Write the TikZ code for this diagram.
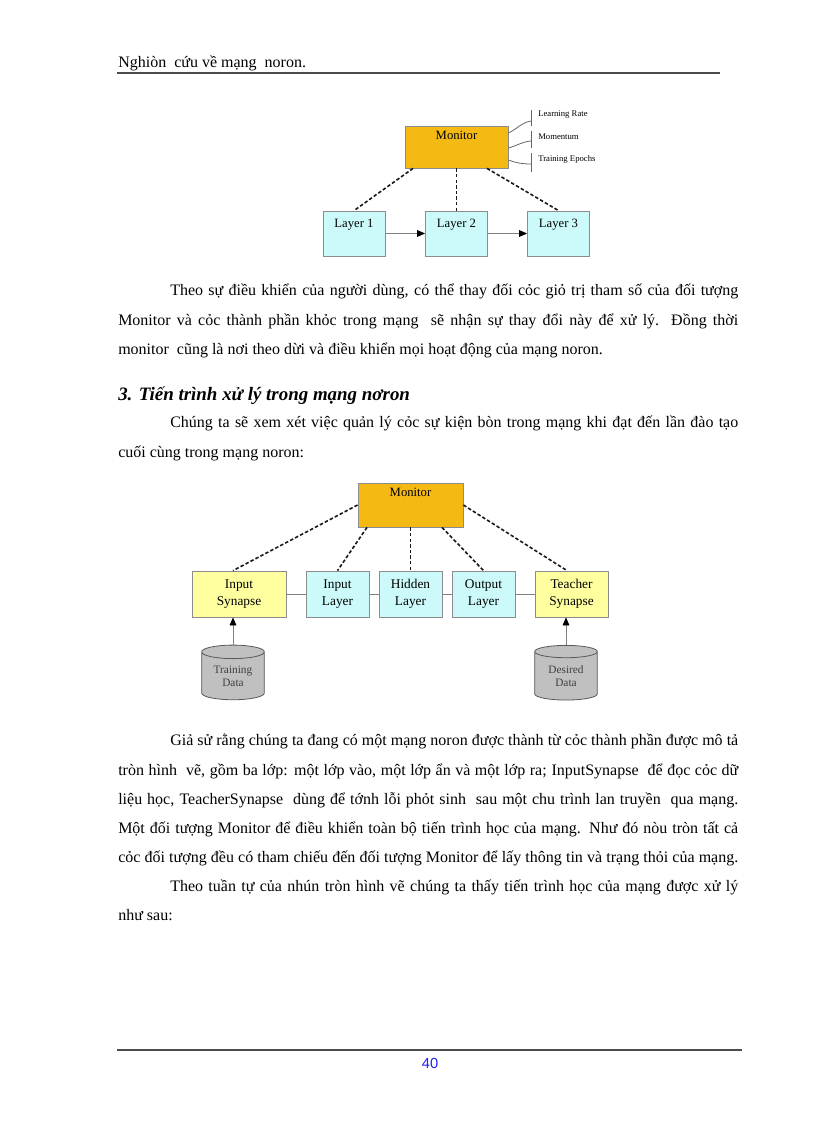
\documentclass[tikz,border=0pt]{standalone}
\usepackage{fontspec}
\setmainfont{Liberation Serif}
\newfontfamily\sansf{Liberation Sans}
\usetikzlibrary{calc,arrows.meta,shapes.geometric}
\definecolor{monfill}{RGB}{245,185,20}
\definecolor{layerfill}{RGB}{204,250,250}
\definecolor{synfill}{RGB}{255,255,160}
\definecolor{cylfill}{RGB}{192,192,192}
\definecolor{boxline}{RGB}{140,140,140}
\definecolor{pagenum}{RGB}{30,30,255}
\newcommand{\jfull}[1]{\makebox[465pt][s]{#1}}
\newcommand{\jind}[1]{\makebox[426pt][s]{#1}}
\tikzset{
  txt/.style={anchor=base west, inner sep=0pt, font=\fontsize{12}{14}\selectfont},
  monbox/.style={draw=boxline, fill=monfill, line width=0.6pt, inner sep=0pt},
  layerbox/.style={draw=boxline, fill=layerfill, line width=0.6pt, inner sep=0pt, align=center, font=\fontsize{10}{12.5}\selectfont},
  synbox/.style={draw=boxline, fill=synfill, line width=0.6pt, inner sep=0pt, align=center, font=\fontsize{10}{12.5}\selectfont},
  boxlab/.style={anchor=north, inner sep=0pt, font=\fontsize{9.5}{12}\selectfont},
  dashc/.style={draw=black!90, line width=1.2pt, dash pattern=on 2.6pt off 1.6pt},
  plainc/.style={draw=gray, line width=0.6pt},
  arr/.style={plainc, -{Triangle[length=6pt,width=5pt,color=black]}},
  annot/.style={draw=gray!80!black, line width=0.6pt},
  annlab/.style={anchor=west, inner sep=0pt, font=\fontsize{6.5}{7}\selectfont},
  dbcyl/.style={cylinder, shape border rotate=90, aspect=0.35, draw=gray!70!black, fill=cylfill, line width=0.6pt, minimum width=47pt, minimum height=41pt, inner sep=0pt, align=center, font=\fontsize{8.5}{10}\selectfont, text=black!75}
}
\begin{document}
\begin{tikzpicture}[x=0.75pt,y=-0.75pt]
\useasboundingbox (0,0) rectangle (816,1123);
\fill[white] (0,0) rectangle (816,1123);

% header
\node[txt] (hdr) at (118,68) {Nghiòn\ \ cứu về mạng\ \ noron.};
\coordinate (hl) at (117,73);
\coordinate (hr) at (720,73);
\draw[line width=1.2pt, draw=gray!60!black] (hl) -- (hr);

% ---------- diagram 1 ----------
\node[monbox, minimum width=77.25pt, minimum height=31.5pt] (mon1) at (456.5,147) {};
\node[boxlab] at ($(mon1.north)+(0,5)$) {Monitor};
\node[layerbox, minimum width=46.5pt, minimum height=33.75pt] (L1) at (354,233.5) {};
\node[layerbox, minimum width=46.5pt, minimum height=33.75pt] (L2) at (456.5,233.5) {};
\node[layerbox, minimum width=46.5pt, minimum height=33.75pt] (L3) at (558.5,233.5) {};
\node[boxlab] at ($(L1.north)+(0,8)$) {Layer 1};
\node[boxlab] at ($(L2.north)+(0,8)$) {Layer 2};
\node[boxlab] at ($(L3.north)+(0,8)$) {Layer 3};
\draw[dashc] ($(mon1.south)+(-43.5,0)$) -- (L1.north);
\draw[dashc] (mon1.south) -- (L2.north);
\draw[dashc] ($(mon1.south)+(30.5,0)$) -- (L3.north);
\draw[arr] (L1.east) -- (L2.west);
\draw[arr] (L2.east) -- (L3.west);
% parameters
\coordinate (c1) at (531,121);
\coordinate (c2) at (531,141);
\coordinate (c3) at (531,164);
\draw[annot] (531,110) -- (531,126);
\draw[annot] (531,131) -- (531,148);
\draw[annot] (531,153) -- (531,172);
\draw[annot] ($(mon1.east)+(0,-14)$) to[out=25,in=190] (c1);
\draw[annot] ($(mon1.east)+(0,1)$) to[out=15,in=185] (c2);
\draw[annot] ($(mon1.east)+(0,13)$) to[out=-20,in=180] (c3);
\node[annlab] (lr) at (538,115) {Learning Rate};
\node[annlab] (mo) at (538,137) {Momentum};
\node[annlab] (te) at (538,159) {Training Epochs};

% ---------- paragraph 1 ----------
\node[txt] (p1a) at (170,295) {\jind{Theo sự điều khiển của người dùng, có thể thay đối cỏc giỏ trị tham số của đối tượng}};
\node[txt] (p1b) at (118,325) {\jfull{Monitor và cỏc thành phần khỏc trong mạng\ \ sẽ nhận sự thay đổi này để xử lý. Đồng thời}};
\node[txt] (p1c) at (118,354) {monitor\ \ cũng là nơi theo dừi và điều khiển mọi hoạt động của mạng noron.};

% heading
\node[anchor=base west, inner sep=0pt, font=\fontsize{14.2}{16}\selectfont\bfseries\itshape] (h3) at (118,400) {3. Tiến trình xử lý trong mạng nơron};

% ---------- paragraph 2 ----------
\node[txt] (p2a) at (170,427) {\jind{Chúng ta sẽ xem xét việc quản lý cỏc sự kiện bòn trong mạng khi đạt đến lần đào tạo}};
\node[txt] (p2b) at (118,457) {cuối cùng trong mạng noron:};

% ---------- diagram 2 ----------
\node[monbox, minimum width=78.75pt, minimum height=33pt] (mon2) at (410.5,505) {};
\node[boxlab] at ($(mon2.north)+(0,5)$) {Monitor};
\node[synbox, minimum width=70.5pt, minimum height=34.5pt] (IS) at (239,594) {Input\\Synapse};
\node[layerbox, minimum width=47.25pt, minimum height=34.5pt] (IL) at (337.5,594) {Input\\Layer};
\node[layerbox, minimum width=47.25pt, minimum height=34.5pt] (HL) at (410.5,594) {Hidden\\Layer};
\node[layerbox, minimum width=47.25pt, minimum height=34.5pt] (OL) at (483.5,594) {Output\\Layer};
\node[synbox, minimum width=54.75pt, minimum height=34.5pt] (TS) at (571.5,594) {Teacher\\Synapse};
\draw[plainc] (IS.east) -- (IL.west);
\draw[plainc] (IL.east) -- (HL.west);
\draw[plainc] (HL.east) -- (OL.west);
\draw[plainc] (OL.east) -- (TS.west);
\draw[dashc] (mon2.west) -- ($(IS.north)+(-6,0)$);
\draw[dashc] ($(mon2.south)+(-43.5,0)$) -- (IL.north);
\draw[dashc] (mon2.south) -- (HL.north);
\draw[dashc] ($(mon2.south)+(31.5,0)$) -- (OL.north);
\draw[dashc] (mon2.east) -- ($(TS.north)+(-4.5,0)$);
\node[dbcyl] (TD) at (233,676) {Training\\Data};
\node[dbcyl] (DD) at (566,676) {Desired\\Data};
\draw[arr] (TD.top) -- (TD.top |- IS.south);
\draw[arr] (DD.top) -- (DD.top |- TS.south);

% ---------- paragraph 3 ----------
\node[txt] (p3a) at (170,745) {\jind{Giả sử rằng chúng ta đang có một mạng noron được thành từ cỏc thành phần được mô tả}};
\node[txt] (p3b) at (118,775) {\jfull{tròn hình\ \ vẽ, gồm ba lớp: một lớp vào, một lớp ẩn và một lớp ra; InputSynapse\ \ để đọc cỏc dữ}};
\node[txt] (p3c) at (118,804) {\jfull{liệu học, TeacherSynapse\ \ dùng để tớnh lỗi phỏt sinh\ \ sau một chu trình lan truyền\ \ qua mạng.}};
\node[txt] (p3d) at (118,833) {\jfull{Một đối tượng Monitor để điều khiển toàn bộ tiến trình học của mạng. Như đó nòu tròn tất cả}};
\node[txt] (p3e) at (118,862) {\jfull{cỏc đối tượng đều có tham chiếu đến đối tượng Monitor để lấy thông tin và trạng thỏi của mạng.}};

% ---------- paragraph 4 ----------
\node[txt] (p4a) at (170,891) {\jind{Theo tuần tự của nhún tròn hình vẽ chúng ta thấy tiến trình học của mạng được xử lý}};
\node[txt] (p4b) at (118,920) {như sau:};

% footer
\coordinate (fl) at (117,1050);
\coordinate (fr) at (742,1050);
\draw[line width=1.2pt, draw=gray!60!black] (fl) -- (fr);
\node[anchor=base, inner sep=0pt, font=\sansf\fontsize{11}{12}\selectfont, text=pagenum] (pn) at (430,1068) {40};
\end{tikzpicture}
\end{document}
